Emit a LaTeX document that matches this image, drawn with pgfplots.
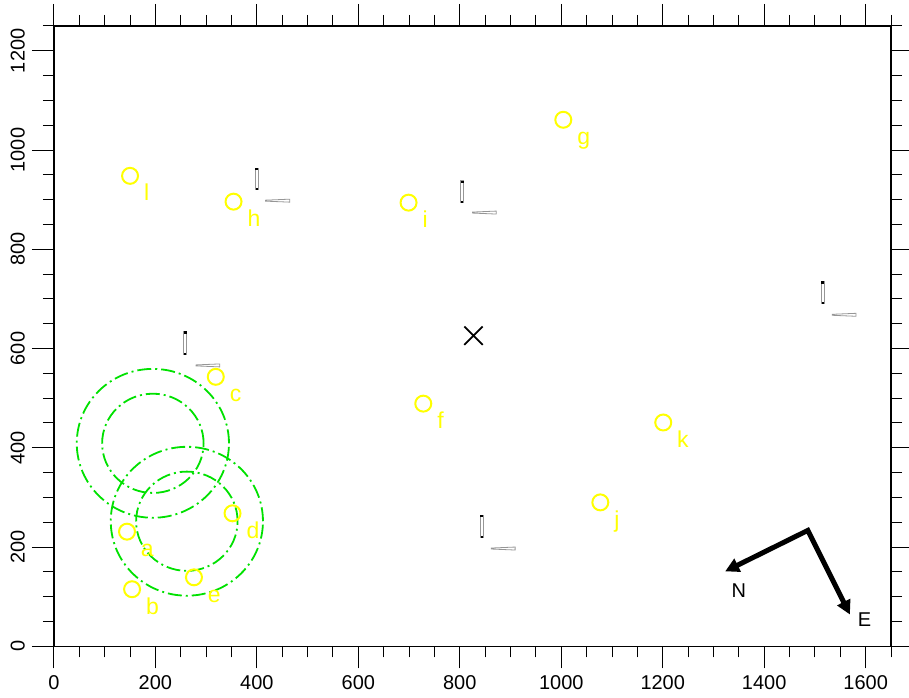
\documentclass[border=0pt]{standalone}
\usepackage{pgfplots}
\pgfplotsset{compat=1.18}
\usepackage{fontspec}
\setmainfont{Liberation Sans}
\usetikzlibrary{arrows.meta}
\definecolor{ylw}{RGB}{255,255,0}
\definecolor{grn}{RGB}{0,225,0}
\definecolor{vg}{RGB}{150,150,150}

\pgfplotstableread{
x y lab
144 231 a
154 115 b
319 543 c
352 268 d
276 139 e
728 489 f
1004 1061 g
354 896 h
699 894 i
1077 290 j
1201 451 k
150 948 l
}\stations

\begin{document}
\begin{tikzpicture}
\begin{axis}[name=ax,
  width=419pt, height=310.5pt, scale only axis,
  xmin=0, xmax=1650, ymin=0, ymax=1250,
  xtick={0,200,...,1600}, ytick={0,200,...,1200},
  minor xtick={0,50,...,1650}, minor ytick={0,50,...,1250},
  tick align=outside,
  major tick length=11pt, minor tick length=5.5pt,
  every tick/.append style={black, line width=0.5pt},
  axis line style={line width=0.6pt},
  xticklabel pos=lower, yticklabel pos=left,
  ticklabel style={font=\fontsize{10}{12}\selectfont},
  yticklabel style={rotate=90, anchor=south},
  /pgf/number format/assume math mode=true,
  /pgf/number format/1000 sep={},
]
% vector glyphs
\addplot[vg, line width=0.4pt, fill=white] coordinates {(256,588)(262,588)(262,634)(256,634)} -- cycle;
\addplot[black, line width=1.2pt] coordinates {(256,632)(262,632)};
\addplot[black, line width=1pt] coordinates {(257,589)(261,589)};
\addplot[vg, line width=0.4pt] coordinates {(280,565)(327,563)(327,569)(280,567)} -- cycle;

\addplot[vg, line width=0.4pt, fill=white] coordinates {(397,920)(403,920)(403,964)(397,964)} -- cycle;
\addplot[black, line width=1.2pt] coordinates {(397,962)(403,962)};
\addplot[black, line width=1pt] coordinates {(398,921)(402,921)};
\addplot[vg, line width=0.4pt] coordinates {(417,897)(465,895)(465,901)(417,899)} -- cycle;

\addplot[vg, line width=0.4pt, fill=white] coordinates {(802,894)(808,894)(808,938)(802,938)} -- cycle;
\addplot[black, line width=1.2pt] coordinates {(802,936)(808,936)};
\addplot[black, line width=1pt] coordinates {(803,895)(807,895)};
\addplot[vg, line width=0.4pt] coordinates {(825,873)(872,871)(872,877)(825,875)} -- cycle;

\addplot[vg, line width=0.4pt, fill=white] coordinates {(1512,690)(1518,690)(1518,735)(1512,735)} -- cycle;
\addplot[black, line width=1.2pt] coordinates {(1512,733)(1518,733)};
\addplot[black, line width=1pt] coordinates {(1513,691)(1517,691)};
\addplot[vg, line width=0.4pt] coordinates {(1534,667)(1581,665)(1581,671)(1534,669)} -- cycle;

\addplot[vg, line width=0.4pt, fill=white] coordinates {(840,219)(846,219)(846,264)(840,264)} -- cycle;
\addplot[black, line width=1.2pt] coordinates {(840,262)(846,262)};
\addplot[black, line width=1pt] coordinates {(841,220)(845,220)};
\addplot[vg, line width=0.4pt] coordinates {(862,196)(909,194)(909,200)(862,198)} -- cycle;

% green circles
\draw[grn, line width=0.9pt, dash pattern=on 7pt off 2pt on 1pt off 2pt] (axis cs:195,409) circle [radius=150];
\draw[grn, line width=0.9pt, dash pattern=on 7pt off 2pt on 1pt off 2pt] (axis cs:195,409) circle [radius=100];
\draw[grn, line width=0.9pt, dash pattern=on 7pt off 2pt on 1pt off 2pt] (axis cs:262,252) circle [radius=150];
\draw[grn, line width=0.9pt, dash pattern=on 7pt off 2pt on 1pt off 2pt] (axis cs:262,252) circle [radius=100];

% stations
\addplot[only marks, mark=o, mark size=4pt, ylw, mark options={line width=1pt},
  point meta=explicit symbolic, nodes near coords,
  nodes near coords style={anchor=base west, inner sep=0pt, xshift=6.5pt, yshift=-12.5pt,
    font=\fontsize{11.5}{13}\selectfont, text=ylw}]
  table[x=x, y=y, meta=lab] {\stations};

% cross
\addplot[only marks, mark=x, mark size=6.5pt, black, mark options={line width=0.9pt}] coordinates {(827,626)};

% compass
\addplot[black, line width=2.5pt, line join=miter, {Triangle[length=7pt,width=7pt]}-{Triangle[length=7pt,width=7pt]}]
  coordinates {(1323,151)(1486,233.5)(1569,64)};
\node[font=\fontsize{10}{12}\selectfont] at (axis cs:1350,113) {N};
\node[font=\fontsize{10}{12}\selectfont] at (axis cs:1598,54) {E};
\end{axis}
\pgfresetboundingbox
\path ([xshift=-27pt,yshift=-25.5pt]ax.south west) rectangle ([xshift=9pt,yshift=13pt]ax.north east);
\end{tikzpicture}
\end{document}
